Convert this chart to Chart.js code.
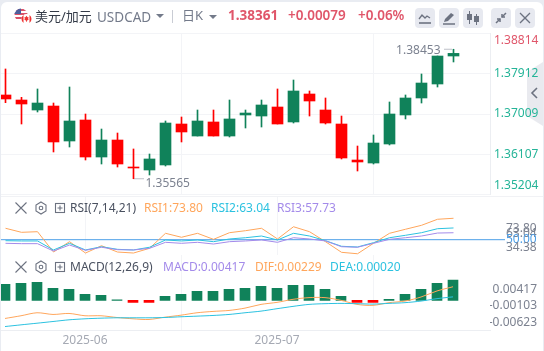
<!DOCTYPE html>
<html><head><meta charset="utf-8">
<script src="https://cdn.jsdelivr.net/npm/chart.js@4"></script>
<style>
html,body{margin:0;padding:0;width:544px;height:351px;overflow:hidden;background:#e9ecf2;font-family:"Noto Sans","Noto Sans CJK SC",sans-serif}
#card{position:absolute;left:1px;top:2px;width:542px;height:349px;background:#fff;border-radius:6px 6px 0 0}
canvas{position:absolute;left:0}
.t{position:absolute;white-space:nowrap;line-height:16px;font-size:12px}
.btn{position:absolute;top:8px;width:20px;height:20px;background:#e7e9f0;border-radius:4px}
.btn svg,.ic{position:absolute;left:0;top:0}
#hline1,#hline2{position:absolute;left:1px;width:542px;height:1px;background:#f1f2f5}
</style></head><body>
<div id="card"></div>
<svg class="ic" style="left:527px;top:62px" width="17" height="64"><path d="M0 10L16 0V64L0 54z" fill="#e7e8ee" fill-opacity=".92"/><path d="M10 26l-5 5 5 5" fill="none" stroke="#6c7280" stroke-width="1.6"/></svg>
<canvas id="main" width="544" height="162" style="top:33px;width:544px;height:162px"></canvas>
<canvas id="rsi" width="544" height="58" style="top:197px;width:544px;height:58px"></canvas>
<canvas id="macd" width="544" height="96" style="top:255px;width:544px;height:96px"></canvas>
<div id="hline1" style="top:196px"></div>

<svg class="ic" width="40" height="30" style="left:13px;top:7px">
  <defs><clipPath id="cu"><circle cx="8" cy="8" r="6.5"/></clipPath></defs>
  <g clip-path="url(#cu)"><rect x="0" y="0" width="16" height="16" fill="#fff"/>
  <rect x="0" y="2" width="16" height="2" fill="#d9536a"/><rect x="0" y="6" width="16" height="2" fill="#d9536a"/><rect x="0" y="10" width="16" height="2" fill="#d9536a"/>
  <rect x="1" y="1" width="7" height="6" fill="#4d5f9c"/></g>
  <circle cx="13.5" cy="12" r="5" fill="#fff"/>
  <path d="M8.5 12a5 5 0 0 1 2-4v8a5 5 0 0 1-2-4zM18.5 12a5 5 0 0 0-2-4v8a5 5 0 0 0 2-4z" fill="#e33"/>
  <path d="M13.5 8.8l1 1.4 1-.3-.3 2 .7.3-2 1.5v1h-.8v-1l-2-1.5.7-.3-.3-2 1 .3z" fill="#e33"/>
</svg>
<div class="t" style="left:35px;top:8px;font-size:13px;color:#333a47">美元/加元</div>
<div class="t" style="left:97px;top:9px;font-size:13.5px;color:#737a8a">USDCAD</div>
<svg class="ic" style="left:156px;top:14px" width="8" height="5"><path d="M0 0h8L4 4z" fill="#737a8a"/></svg>
<div style="position:absolute;left:172px;top:10px;width:1px;height:13px;background:#c9ccd4"></div>
<div class="t" style="left:182px;top:7px;font-size:13px;color:#737a8a">日K</div>
<svg class="ic" style="left:209px;top:15px" width="8" height="5"><path d="M0 0h8L4 4z" fill="#737a8a"/></svg>
<div class="t" id="hLast" style="left:228px;top:7px;font-size:13.5px;font-weight:700;color:#e0566a"></div>
<div class="t" id="hChg" style="left:288px;top:7px;font-size:13.5px;font-weight:600;color:#e0566a"></div>
<div class="t" id="hPct" style="left:358px;top:7px;font-size:13.5px;font-weight:600;color:#e0566a"></div>

<div class="btn" style="left:415px"><svg width="20" height="20" fill="none" stroke="#6c7280" stroke-width="1.3"><path d="M4 11l3-4 3 3 2-2 3 2"/><path d="M4 15h12" stroke-width="1.6"/></svg></div>
<div class="btn" style="left:439px"><svg width="20" height="20"><path d="M5 14l1-3 6-6 3 2-6 6z" fill="#6c7280"/><path d="M4 16h12" stroke="#6c7280" stroke-width="1.5"/></svg></div>
<div class="btn" style="left:463px"><svg width="20" height="20" fill="#6c7280" stroke="#6c7280"><path d="M6.5 3v13M13.5 6v11" stroke-width="1"/><rect x="4" y="6" width="5" height="6" stroke="none"/><rect x="11" y="8" width="5" height="6" stroke="none"/></svg></div>
<div class="btn" style="left:491px"><svg width="20" height="20" fill="none" stroke="#6c7280" stroke-width="1.5"><path d="M15 5l-4 4M5 15l4-4"/><path d="M11 6v3h3M9 14v-3H6"/></svg></div>
<div class="btn" style="left:515px"><svg width="20" height="20" stroke="#6c7280" stroke-width="1.3"><path d="M5 5l10 10M15 5L5 15"/></svg></div>

<svg class="ic" style="left:14px;top:200px" width="54" height="16" fill="none" stroke="#6c7280" stroke-width="1.1"><path d="M1.5 2.5l11 11M12.5 2.5l-11 11"/><path d="M27 2l5 3v6l-5 3-5-3V5z"/><circle cx="27" cy="8" r="1.8"/><rect x="41.5" y="3.5" width="9" height="9"/><path d="M43.5 8h5M46 5.5v5"/></svg>
<div class="t" style="left:70px;top:200px;color:#4a5160" id="rsiName"></div>
<div class="t" style="left:144px;top:200px;color:#ffa65c" id="rsiA"></div>
<div class="t" style="left:211px;top:200px;color:#2cc2e0" id="rsiB"></div>
<div class="t" style="left:277px;top:200px;color:#a48bea" id="rsiC"></div>

<svg class="ic" style="left:14px;top:259px" width="54" height="16" fill="none" stroke="#6c7280" stroke-width="1.1"><path d="M1.5 2.5l11 11M12.5 2.5l-11 11"/><path d="M27 2l5 3v6l-5 3-5-3V5z"/><circle cx="27" cy="8" r="1.8"/><rect x="41.5" y="3.5" width="9" height="9"/><path d="M43.5 8h5M46 5.5v5"/></svg>
<div class="t" style="left:70px;top:259px;color:#4a5160" id="macdName"></div>
<div class="t" style="left:163px;top:259px;color:#a48bea" id="macdA"></div>
<div class="t" style="left:255px;top:259px;color:#ffa65c" id="macdB"></div>
<div class="t" style="left:330px;top:259px;color:#2cc2e0" id="macdC"></div>

<div style="position:absolute;left:0;top:0;width:1px;height:351px;background:#e9ecf2"></div>

<script>
// ---- values ----
const monthLabels = {5:'2025-06', 17:'2025-07'};
const open  = [1.37433,1.37321,1.37098,1.37187,1.36407,1.36875,1.36050,1.36429,1.35827,1.35760,1.35872,1.36786,1.36518,1.36831,1.36518,1.36987,1.36964,1.37165,1.36831,1.37455,1.37098,1.36786,1.35983,1.35916,1.36340,1.36987,1.37366,1.37678,1.38302];
const high  = [1.38013,1.37381,1.37567,1.37254,1.37611,1.37009,1.36674,1.36585,1.36229,1.36117,1.36853,1.36942,1.37098,1.37098,1.37321,1.37098,1.37321,1.37567,1.37767,1.37522,1.37366,1.36964,1.36295,1.36541,1.37277,1.37433,1.37901,1.38302,1.38453];
const low   = [1.37261,1.36786,1.37054,1.36162,1.36273,1.35983,1.35894,1.35827,1.35565,1.35649,1.35849,1.36385,1.36518,1.36518,1.36496,1.36697,1.36719,1.36786,1.36808,1.36964,1.36786,1.36006,1.35738,1.35894,1.36318,1.36898,1.37254,1.37611,1.38169];
const close = [1.37344,1.37232,1.37254,1.36385,1.36853,1.36050,1.36429,1.35894,1.35805,1.36006,1.36808,1.36608,1.36853,1.36518,1.36898,1.37031,1.37210,1.36786,1.37522,1.37299,1.36808,1.36028,1.35939,1.36362,1.37009,1.37366,1.37700,1.38302,1.38361];
const priceTicks = [1.38814,1.37912,1.37009,1.36107,1.35204];
const lastPrice = 1.38361, lastChange = 0.00079, lastPct = 0.06;
const highMark = 1.38453, lowMark = 1.35565;

const rsi1 = [62.7,58.2,58.9,36.3,47.8,35.2,43.3,36.3,35.2,40.4,57.1,52.7,57.1,50.4,57.8,60,62.7,50.8,64.4,58.9,47.8,36,34.38,46,57.1,61.6,66,72.7,73.8];
const rsi2 = [48.9,48.6,48.6,38.6,46,38.6,42.2,39.3,38.6,41.6,49.7,48.6,49.7,47.8,50.8,52.2,54.1,49.7,57.1,54.1,48.9,42.7,41.9,46.7,52.2,54.9,57.8,62.2,63.04];
const rsi3 = [46,45.6,45.6,37.4,44.1,38.2,41.6,38.9,38.6,40.4,47.1,46,47.1,45.2,47.8,48.6,49.7,47.1,52.2,50.8,48.6,42.2,41.6,46,50.4,52.2,54.1,57.4,57.73];
const rsiTicks = [73.80,63.04,50.00,34.38];
const rsiMid = 50;

const macdHist = [.00334,.00354,.00375,.0025,.00229,.00125,.00104,.0001,-.00042,-.00042,.00083,.00125,.00188,.00188,.00229,.0025,.00292,.0025,.00313,.00313,.00229,.00083,-.00042,-.00042,.00021,.00125,.00229,.00354,.00417];
const dif = [-.00427,-.00371,-.00309,-.00344,-.00323,-.00371,-.00371,-.00407,-.00434,-.00448,-.004,-.00359,-.00309,-.00281,-.00261,-.00213,-.00136,-.00094,-.00031,.00004,.00004,-.00052,-.00136,-.00156,-.001,-.00067,.00017,.00142,.00229];
const dea = [-.00594,-.00559,-.00525,-.0049,-.00455,-.00434,-.00421,-.00413,-.00413,-.00413,-.00407,-.00392,-.00379,-.00365,-.00344,-.00309,-.00275,-.00225,-.00177,-.00136,-.00121,-.00115,-.00121,-.00129,-.00115,-.001,-.00067,-.00017,.0002];
const macdTicks = [.00417,-.00103,-.00623];

// ---- styling ----
const UP='#10825a', DOWN='#ff0000', GRID='#f3f4f7', AXIS='#eceef2';
const TEAL='#25b498', ROSE='#e0566a', GREY='#7c8290', BLUE='#4c9fe8';
const FONT='"Noto Sans","Noto Sans CJK SC",sans-serif';
const orange='#ffa65c', cyan='#2cc2e0', purple='#a48bea';
Chart.defaults.font.family=FONT;

const set=(id,s)=>document.getElementById(id).textContent=s;
set('hLast',lastPrice.toFixed(5)); set('hChg','+'+lastChange.toFixed(5)); set('hPct','+'+lastPct.toFixed(2)+'%');
set('rsiName','RSI(7,14,21)'); set('rsiA','RSI1:'+rsi1[28].toFixed(2)); set('rsiB','RSI2:'+rsi2[28].toFixed(2)); set('rsiC','RSI3:'+rsi3[28].toFixed(2));
set('macdName','MACD(12,26,9)'); set('macdA','MACD:'+macdHist[28].toFixed(5)); set('macdB','DIF:'+dif[28].toFixed(5)); set('macdC','DEA:'+dea[28].toFixed(5));

const idx = open.map((_,i)=>i);
const isUp = idx.map(i=>close[i]>=open[i]);
const monthTicks = Object.keys(monthLabels).map(Number);

function xAxis(width,start,showLabels){
  return {type:'linear',min:-start/16,max:(width-start)/16,offset:false,
    afterBuildTicks:s=>{s.ticks=monthTicks.map(v=>({value:v}));},
    afterFit:s=>{s.paddingLeft=0;s.paddingRight=0;if(!showLabels)s.height=0;},
    grid:{color:GRID,drawTicks:false},
    border:{display:true,color:AXIS},
    ticks:{display:showLabels,autoSkip:false,maxRotation:0,padding:3,color:'#a6aab4',font:{size:12},callback:v=>monthLabels[v]||''}};
}
function rightAxis(ticks,width,extra){
  return Object.assign({type:'linear',position:'right',
    afterBuildTicks:s=>{s.ticks=ticks.map(v=>({value:v}));},
    afterFit:s=>{s.width=width;s.paddingTop=0;s.paddingBottom=0;},
    grid:{display:false,drawTicks:false},border:{display:false}},extra);
}
const base={responsive:false,animation:false,events:[],layout:{padding:0},
  plugins:{legend:{display:false},tooltip:{enabled:false}}};

// extreme price notes
const marks={id:'marks',afterDatasetsDraw(c){
  const g=c.ctx,x=c.scales.x,y=c.scales.y;
  g.save();g.font='12px '+FONT;g.fillStyle=GREY;g.textBaseline='middle';
  const hi=high.indexOf(highMark),lo=low.indexOf(lowMark);
  let px=x.getPixelForValue(hi),py=y.getPixelForValue(highMark);
  g.textAlign='right';g.fillText(highMark.toFixed(5),px-13,py+1.5);
  for(let k=3;k<11;k+=2)g.fillRect(px-k,py-.5,1,1);
  px=x.getPixelForValue(lo);py=y.getPixelForValue(lowMark);
  g.textAlign='left';g.fillText(lowMark.toFixed(5),px+12,py+5);
  for(let k=1;k<10;k+=2)g.fillRect(px+k,py-.5,1,1);
  g.restore();
}};

new Chart(document.getElementById('main'),{type:'bar',plugins:[marks],
  data:{datasets:[
    {data:idx.map(i=>({x:i,y:[low[i],high[i]]})),backgroundColor:idx.map(i=>isUp[i]?UP:DOWN),barThickness:1,grouped:false,borderWidth:0,borderSkipped:false,order:2},
    {data:idx.map(i=>({x:i,y:[open[i],close[i]]})),backgroundColor:idx.map(i=>isUp[i]?UP:DOWN),barThickness:11,grouped:false,borderWidth:0,borderSkipped:false,order:1}
  ]},
  options:Object.assign({},base,{scales:{
    x:xAxis(490,5.5,false),
    y:rightAxis(priceTicks,54,{min:1.352027,max:1.388153,
      grid:{display:true,color:GRID,drawTicks:false},
      border:{display:true,color:AXIS},
      ticks:{padding:4,autoSkip:false,
        color:c=>c.index===0?ROSE:TEAL,
        font:c=>({size:12,lineHeight:(c.index===0?16:(c.index===priceTicks.length-1?18:14))/12}),
        callback:(v,i)=>{const s=v.toFixed(5);return i===0?['',s]:(i===priceTicks.length-1?[s,'']:s);}}})
  }})
});

new Chart(document.getElementById('rsi'),{type:'line',
  data:{datasets:[
    {data:idx.map(i=>({x:i,y:rsi3[i]})),borderColor:purple,borderWidth:1,pointRadius:0,tension:0,yAxisID:'y'},
    {data:idx.map(i=>({x:i,y:rsi2[i]})),borderColor:cyan,borderWidth:1,pointRadius:0,tension:0,yAxisID:'y'},
    {data:idx.map(i=>({x:i,y:rsi1[i]})),borderColor:orange,borderWidth:1,pointRadius:0,tension:0,yAxisID:'y'},
    {data:[{x:-1,y:rsiMid},{x:40,y:rsiMid}],borderColor:BLUE,borderWidth:1,pointRadius:0,tension:0,yAxisID:'y'}
  ]},
  options:Object.assign({},base,{scales:{
    x:Object.assign(xAxis(505,5.5,false),{}),
    y:{type:'linear',display:false,min:33,max:97.44},
    yLab:rightAxis(rsiTicks,39,{min:18.13,max:138.96,
      ticks:{padding:1,autoSkip:false,font:{size:12},color:c=>c.tick&&c.tick.value===rsiMid?BLUE:GREY,
        callback:v=>v.toFixed(2)}})
  }})
});

new Chart(document.getElementById('macd'),{type:'bar',
  data:{datasets:[
    {type:'line',data:idx.map(i=>({x:i,y:dea[i]})),borderColor:cyan,borderWidth:1,pointRadius:0,tension:.3,yAxisID:'yLine',order:1},
    {type:'line',data:idx.map(i=>({x:i,y:dif[i]})),borderColor:orange,borderWidth:1,pointRadius:0,tension:.3,yAxisID:'yLine',order:1},
    {data:idx.map(i=>({x:i,y:macdHist[i]})),backgroundColor:idx.map(i=>macdHist[i]>=0?UP:DOWN),barThickness:10,borderWidth:0,yAxisID:'yBar',order:2}
  ]},
  options:Object.assign({},base,{layout:{padding:{right:7}},scales:{
    x:xAxis(490,5,true),
    yBar:{type:'linear',display:false,min:-.006255,max:.0093825},
    yLine:{type:'linear',display:false,min:-.00678,max:.00886},
    yLab:rightAxis(macdTicks,47,{min:-.008813,max:.015112,
      ticks:{padding:0,autoSkip:false,crossAlign:'far',font:{size:12},color:GREY,
        callback:v=>v.toFixed(5)}})
  }})
});
</script>
</body></html>
